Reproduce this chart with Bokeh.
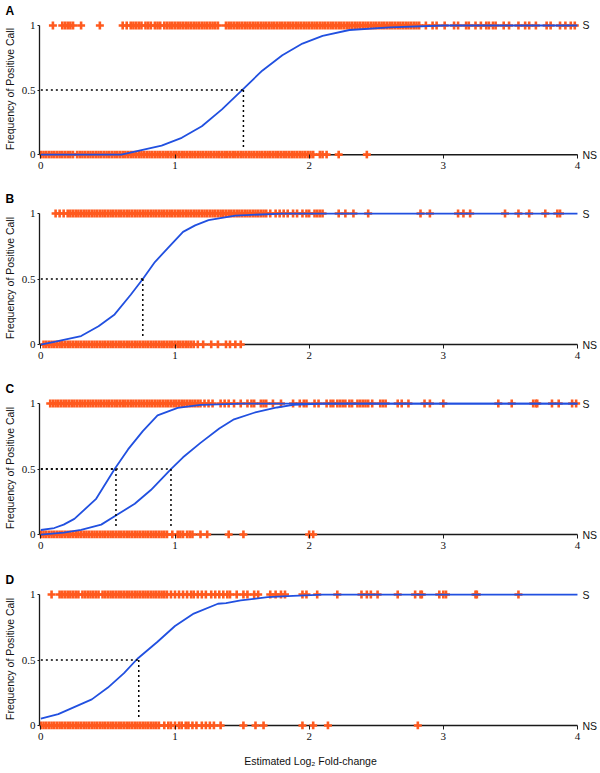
from bokeh.plotting import figure
from bokeh.models import Range1d, FixedTicker, NumeralTickFormatter, LinearAxis
from bokeh.layouts import column
from bokeh.embed import file_html
from bokeh.resources import INLINE

# ---------------- data ----------------
x_ticks = [0, 1, 2, 3, 4]
y_ticks = [0, 0.5, 1]
panel_letters = ["A", "B", "C", "D"]
call_levels = [0, 1]            # NS at y=0, S at y=1
call_names = ["NS", "S"]
S_LEVEL = 1
NS_LEVEL = 0
HALF = 0.5
x_title = "Estimated Log\u2082 Fold-change"
y_title = "Frequency of Positive Call"

# Panel A
a_sig = [0.09, 0.16, 0.18, 0.20, 0.22, 0.24, 0.30, 0.44, 0.61, 0.64,
         0.67, 0.69, 0.71, 0.73, 0.75, 0.78, 0.80, 0.82, 0.85, 0.87, 0.89, 0.92, 0.94, 0.96, 0.98,
         1.00, 1.02, 1.04, 1.06, 1.08, 1.10, 1.12, 1.14, 1.16, 1.18, 1.20, 1.22, 1.24, 1.26,
         1.28, 1.30, 1.32, 1.38, 1.40, 1.42, 1.44, 1.46, 1.48, 1.50, 1.52, 1.54, 1.56, 1.58,
         1.60, 1.62, 1.64, 1.66, 1.68, 1.70, 1.72, 1.74, 1.76, 1.78, 1.80, 1.82, 1.84, 1.86,
         1.88, 1.90, 1.92, 1.94, 1.96, 1.98, 2.00, 2.02, 2.04, 2.06, 2.08, 2.10, 2.12, 2.14,
         2.16, 2.18, 2.20, 2.22, 2.24, 2.26, 2.28, 2.30, 2.32, 2.34, 2.36, 2.38, 2.40, 2.42,
         2.44, 2.46, 2.48, 2.50, 2.52, 2.54, 2.56, 2.58, 2.60, 2.62, 2.64, 2.66, 2.68, 2.70,
         2.72, 2.74, 2.76, 2.78, 2.80,
         2.82, 2.87, 2.92, 2.95, 3.01, 3.08, 3.11, 3.17, 3.19, 3.24, 3.28, 3.32, 3.34, 3.37,
         3.39, 3.45, 3.49, 3.56, 3.61, 3.64, 3.69, 3.77, 3.80, 3.87, 3.91, 3.95, 3.98]
a_ns = [0.00, 0.02, 0.04, 0.06, 0.08, 0.10, 0.12, 0.14, 0.16, 0.18, 0.20, 0.22, 0.24, 0.27,
        0.29, 0.31, 0.33, 0.35, 0.37, 0.39, 0.41, 0.43, 0.45, 0.47, 0.49, 0.51, 0.53, 0.55,
        0.57, 0.59, 0.61, 0.63, 0.65, 0.67, 0.69, 0.71, 0.73, 0.75, 0.77, 0.79, 0.81, 0.83,
        0.85, 0.87, 0.89, 0.91, 0.93, 0.95, 0.97, 0.99, 1.01, 1.03, 1.05, 1.07, 1.09, 1.11,
        1.13, 1.15, 1.17, 1.19, 1.21, 1.23, 1.25, 1.27, 1.29, 1.31, 1.33, 1.35, 1.37, 1.39,
        1.41, 1.43, 1.45, 1.47, 1.49, 1.51, 1.53, 1.55, 1.57, 1.59, 1.61, 1.63, 1.65, 1.67,
        1.69, 1.71, 1.73, 1.75, 1.77, 1.79, 1.81, 1.83, 1.85, 1.87, 1.89, 1.91, 1.93, 1.95,
        1.97, 1.99, 2.01, 2.03, 2.08, 2.10, 2.13, 2.22, 2.43]
a_curve_x = [0, 0.6, 0.9, 1.05, 1.2, 1.35, 1.5, 1.65, 1.8, 1.95, 2.1, 2.3, 2.6, 3.0, 4.0]
a_curve_y = [0, 0, 0.07, 0.13, 0.22, 0.35, 0.50, 0.65, 0.77, 0.86, 0.92, 0.965, 0.985, 1.0, 1.0]
a_ec50 = [1.51]

# Panel B
b_sig = [0.11, 0.14, 0.17, 0.20,
         0.22, 0.24, 0.26, 0.28, 0.30, 0.32, 0.34, 0.36, 0.38, 0.40, 0.42, 0.44, 0.46, 0.48,
         0.50, 0.52, 0.54, 0.56, 0.58, 0.60, 0.62, 0.64, 0.66, 0.68, 0.70, 0.72, 0.74, 0.76,
         0.78, 0.80, 0.82, 0.84, 0.86, 0.88, 0.90, 0.92, 0.94, 0.96, 0.98, 1.00, 1.02, 1.04,
         1.06, 1.08, 1.10, 1.12, 1.14, 1.16, 1.18, 1.20, 1.22, 1.24, 1.26, 1.28, 1.30, 1.32,
         1.34, 1.36, 1.38, 1.40, 1.42, 1.44, 1.46, 1.48, 1.50, 1.52, 1.54, 1.56, 1.58, 1.60,
         1.62, 1.64, 1.66, 1.68,
         1.71, 1.75, 1.78, 1.81, 1.84, 1.88, 1.91, 1.95, 1.98, 2.00, 2.04, 2.06, 2.08, 2.10,
         2.22, 2.27, 2.33, 2.44, 2.83, 2.90, 3.11, 3.15, 3.20, 3.46, 3.56, 3.64, 3.76, 3.85,
         3.87]
b_ns = [0.02, 0.04, 0.06, 0.08, 0.10, 0.12, 0.14, 0.16, 0.18, 0.20, 0.22, 0.24, 0.26, 0.28,
        0.30, 0.32, 0.34, 0.36, 0.38, 0.40, 0.42, 0.44, 0.46, 0.48, 0.50, 0.52, 0.54, 0.56,
        0.58, 0.60, 0.62, 0.64, 0.66, 0.68, 0.70, 0.72, 0.74, 0.76, 0.78, 0.80, 0.82, 0.84,
        0.86, 0.88, 0.90, 0.92, 0.94, 0.96, 0.98, 1.00, 1.02, 1.04, 1.06, 1.08, 1.10, 1.12,
        1.14, 1.17, 1.21, 1.27, 1.32, 1.38, 1.41, 1.45, 1.49]
b_curve_x = [0, 0.1, 0.3, 0.43, 0.55, 0.67, 0.76, 0.85, 0.95, 1.06, 1.15, 1.25, 1.45, 1.8, 4.0]
b_curve_y = [0, 0.02, 0.065, 0.14, 0.23, 0.38, 0.50, 0.63, 0.74, 0.86, 0.91, 0.95, 0.985, 1.0, 1.0]
b_ec50 = [0.76]

# Panel C
c_sig = [0.07, 0.09, 0.11,
         0.13, 0.15, 0.17, 0.19, 0.21, 0.23, 0.25, 0.27, 0.29, 0.31, 0.33, 0.35, 0.37, 0.39,
         0.41, 0.43, 0.45, 0.47, 0.49, 0.51, 0.53, 0.55, 0.57, 0.59, 0.61, 0.63, 0.65, 0.67,
         0.69, 0.71, 0.73, 0.75, 0.77, 0.79, 0.81, 0.83, 0.85, 0.87, 0.89, 0.91, 0.93, 0.95,
         0.97, 0.99, 1.01, 1.03, 1.05, 1.07, 1.09, 1.11, 1.13, 1.15, 1.17,
         1.19, 1.22, 1.25, 1.28, 1.34, 1.37, 1.40, 1.44, 1.49, 1.54, 1.57, 1.59, 1.64, 1.66,
         1.68, 1.73, 1.79, 1.88, 1.93, 1.96, 1.98, 2.04, 2.07, 2.13, 2.16, 2.18, 2.21, 2.23,
         2.25, 2.27, 2.30, 2.32, 2.36, 2.38, 2.40, 2.42, 2.44, 2.47, 2.53, 2.55, 2.57, 2.66,
         2.69, 2.74, 2.86, 2.90, 3.00, 3.41, 3.51, 3.67, 3.69, 3.70, 3.81, 3.86, 3.96, 3.99]
c_ns = [0.00, 0.02, 0.04, 0.06, 0.08, 0.10, 0.12, 0.14, 0.16, 0.18, 0.20, 0.22, 0.24, 0.26,
        0.28, 0.30, 0.32, 0.34, 0.36, 0.38, 0.40, 0.42, 0.44, 0.46, 0.48, 0.50, 0.52, 0.54,
        0.56, 0.58, 0.60, 0.62, 0.64, 0.66, 0.68, 0.70, 0.72, 0.74, 0.76, 0.78, 0.80, 0.82,
        0.84, 0.86, 0.88, 0.90, 0.92, 0.94,
        0.98, 1.02, 1.04, 1.06, 1.09, 1.11, 1.13, 1.19, 1.24, 1.40, 1.51, 2.00, 2.03]
c1_curve_x = [0, 0.1, 0.17, 0.25, 0.41, 0.55, 0.65, 0.76, 0.87, 1.02, 1.19, 1.5, 4.0]
c1_curve_y = [0.035, 0.05, 0.076, 0.12, 0.27, 0.50, 0.65, 0.79, 0.91, 0.967, 0.99, 1.0, 1.0]
c2_curve_x = [0, 0.17, 0.30, 0.45, 0.55, 0.70, 0.82, 0.97, 1.06, 1.19, 1.33, 1.44, 1.59, 1.76,
              1.88, 2.1, 4.0]
c2_curve_y = [0, 0.015, 0.035, 0.076, 0.14, 0.235, 0.34, 0.50, 0.59, 0.70, 0.81, 0.88, 0.93,
              0.97, 0.99, 1.0, 1.0]
c_ec50 = [0.56, 0.97]

# Panel D
d_sig = [0.08,
         0.14, 0.16, 0.18, 0.20, 0.22, 0.24, 0.26, 0.28, 0.31, 0.33, 0.35, 0.37, 0.39, 0.41,
         0.43, 0.46, 0.48, 0.50, 0.52, 0.54, 0.56, 0.58, 0.60, 0.62, 0.64, 0.66, 0.68, 0.70,
         0.72, 0.74, 0.76, 0.78, 0.80, 0.82, 0.84, 0.86, 0.88, 0.90, 0.92, 0.94,
         0.97, 1.00, 1.03, 1.06, 1.09, 1.12, 1.14, 1.17, 1.20, 1.23, 1.27, 1.30, 1.33, 1.36,
         1.39, 1.41, 1.46, 1.51, 1.54, 1.59, 1.62, 1.71, 1.75, 1.79, 1.82, 1.95, 1.98, 2.06,
         2.21, 2.39, 2.43, 2.46, 2.51, 2.66, 2.79, 2.83, 2.84, 2.97, 3.00, 3.02, 3.24, 3.25,
         3.56]
d_ns = [0.00, 0.02, 0.04, 0.06, 0.08, 0.10, 0.12, 0.14, 0.16, 0.18, 0.20, 0.22, 0.24, 0.26,
        0.28, 0.30, 0.32, 0.34, 0.36, 0.38, 0.40, 0.42, 0.44, 0.46, 0.48, 0.50, 0.52, 0.54,
        0.56, 0.58, 0.60, 0.62, 0.64, 0.66, 0.68, 0.70, 0.72, 0.74, 0.76, 0.78, 0.80, 0.82,
        0.84, 0.86, 0.88,
        0.92, 0.95, 0.97, 1.00, 1.03, 1.05, 1.08, 1.10, 1.13, 1.16, 1.20, 1.23, 1.26, 1.29,
        1.34, 1.51, 1.60, 1.66, 1.95, 2.03, 2.14, 2.81]
d_curve_x = [0, 0.13, 0.38, 0.50, 0.62, 0.72, 0.87, 1.0, 1.14, 1.32, 1.38, 1.49, 1.69, 1.88, 2.1, 4.0]
d_curve_y = [0.053, 0.087, 0.20, 0.29, 0.40, 0.51, 0.64, 0.76, 0.855, 0.93, 0.935, 0.955, 0.98,
             0.99, 1.0, 1.0]
d_ec50 = [0.73]

# ---------------- style ----------------
ORANGE = "#FF5A1E"
BLUE = "#2150E0"
INK = "#1a1a1a"
TXT = "#111111"
SANS = "Liberation Sans"
SERIF = "Liberation Serif"
FRAME_H = 141
W = 600


def make_panel(letter, sig, ns, curves, ec50s, top, bottom, with_xtitle=False):
    p = figure(width=W, height=top + FRAME_H + bottom,
               x_range=Range1d(-0.01, 4.03), y_range=Range1d(-0.03, 1.0463),
               output_backend="svg", toolbar_location=None,
               min_border_left=38, min_border_right=17,
               min_border_top=top, min_border_bottom=bottom)
    p.outline_line_color = None
    p.xgrid.visible = False
    p.ygrid.visible = False
    p.background_fill_color = "white"
    p.border_fill_color = "white"

    # panel letter as the title
    p.title.text = letter
    p.title.align = "left"
    p.title.offset = -34
    p.title.standoff = 3
    p.title.vertical_align = "bottom"
    p.title.text_font = SANS
    p.title.text_font_size = "12px"
    p.title.text_font_style = "bold"
    p.title.text_color = "black"

    # baseline (NS level) drawn under the rug
    p.segment(x0=[x_ticks[0]], y0=[NS_LEVEL], x1=[x_ticks[-1]], y1=[NS_LEVEL],
              line_color=INK, line_width=1.5)

    # rugs
    p.scatter(x=sig, y=[S_LEVEL] * len(sig), marker="cross", size=8,
              line_color=ORANGE, line_width=2.6)
    p.scatter(x=ns, y=[NS_LEVEL] * len(ns), marker="cross", size=8,
              line_color=ORANGE, line_width=2.6)

    # curves
    for cx, cy in curves:
        p.line(cx, cy, line_color=BLUE, line_width=1.8)

    # half-max guides
    for e in ec50s:
        p.segment(x0=[x_ticks[0]], y0=[HALF], x1=[e], y1=[HALF],
                  line_color="black", line_width=1.5, line_dash="2 3")
        p.segment(x0=[e], y0=[HALF], x1=[e], y1=[0.06],
                  line_color="black", line_width=1.5, line_dash="2 3")

    xa = p.xaxis[0]
    xa.ticker = FixedTicker(ticks=x_ticks)
    xa.axis_line_color = None
    xa.major_tick_out = 0
    xa.major_tick_in = 4
    xa.minor_tick_out = 0
    xa.minor_tick_in = 0
    xa.major_tick_line_color = INK
    xa.major_label_text_font = SERIF
    xa.major_label_text_font_size = "11px"
    xa.major_label_text_color = TXT
    xa.major_label_standoff = 3
    if with_xtitle:
        xa.axis_label = x_title
        xa.axis_label_standoff = 12
        xa.axis_label_text_font = SANS
        xa.axis_label_text_font_size = "10.5px"
        xa.axis_label_text_font_style = "normal"
        xa.axis_label_text_color = TXT

    ya = p.yaxis[0]
    ya.ticker = FixedTicker(ticks=y_ticks)
    ya.formatter = NumeralTickFormatter(format="0.[0]")
    ya.bounds = (y_ticks[0], y_ticks[-1])
    ya.axis_line_color = INK
    ya.axis_line_width = 1.3
    ya.major_tick_out = 2
    ya.major_tick_in = 0
    ya.minor_tick_out = 0
    ya.minor_tick_in = 0
    ya.major_tick_line_color = INK
    ya.major_label_text_font = SERIF
    ya.major_label_text_font_size = "11px"
    ya.major_label_text_color = TXT
    ya.major_label_standoff = 2
    ya.axis_label = y_title
    ya.axis_label_standoff = 3
    ya.axis_label_text_font = SANS
    ya.axis_label_text_font_size = "10.5px"
    ya.axis_label_text_font_style = "normal"
    ya.axis_label_text_color = TXT

    # S / NS call labels on the right
    ra = LinearAxis(ticker=FixedTicker(ticks=call_levels),
                    major_label_overrides={lv: nm for lv, nm in zip(call_levels, call_names)})
    ra.axis_line_color = None
    ra.major_tick_out = 0
    ra.major_tick_in = 0
    ra.minor_tick_out = 0
    ra.minor_tick_in = 0
    ra.major_label_standoff = 1
    ra.major_label_text_font = SANS
    ra.major_label_text_font_size = "10.5px"
    ra.major_label_text_color = TXT
    p.add_layout(ra, "right")
    return p


pa = make_panel(panel_letters[0], a_sig, a_ns, [(a_curve_x, a_curve_y)], a_ec50, 17, 24)
pb = make_panel(panel_letters[1], b_sig, b_ns, [(b_curve_x, b_curve_y)], b_ec50, 25, 24)
pc = make_panel(panel_letters[2], c_sig, c_ns, [(c1_curve_x, c1_curve_y), (c2_curve_x, c2_curve_y)],
                c_ec50, 25, 24)
pd = make_panel(panel_letters[3], d_sig, d_ns, [(d_curve_x, d_curve_y)], d_ec50, 26, 44,
                with_xtitle=True)

layout = column(pa, pb, pc, pd, spacing=0)
open("out.html", "w").write(file_html(layout, INLINE))
